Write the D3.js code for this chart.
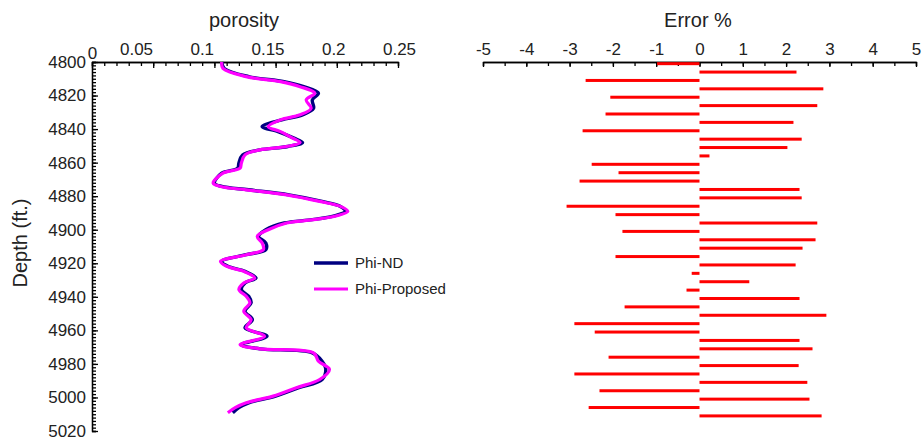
<!DOCTYPE html>
<html>
<head>
<meta charset="utf-8">
<script src="https://cdn.jsdelivr.net/npm/d3@7"></script>
<style>
  body { margin: 0; background: #fff; }
  svg { font-family: "Liberation Sans", Arial, sans-serif; }
  .axis path, .axis line { stroke: #000; stroke-width: 1.3; }
  .axis text { font-size: 17px; fill: #222; }
  .title { font-size: 20px; fill: #222; }
  .legend text { font-size: 15px; fill: #222; }
  .nd { fill: none; stroke: #000080; stroke-width: 3.4; }
  .prop { fill: none; stroke: #ff00ff; stroke-width: 3.2; }
  .bar { fill: #ff0000; }
</style>
</head>
<body>
<svg width="922" height="442"></svg>
<script>
// porosity logs
const logDepth = [4800, 4803.8, 4808.7, 4811.7, 4814.7, 4818.6, 4822.6, 4827.6, 4831.5, 4834.5, 4838.5, 4841.5, 4845.4, 4848, 4850.4, 4852.4, 4855.4, 4860.3, 4863.3, 4866.3, 4872.2, 4874.2, 4876.2, 4879.2, 4883.1, 4886.1, 4889.1, 4891.7, 4894, 4896, 4900, 4904, 4907.9, 4911.9, 4914.9, 4918.9, 4921.8, 4924.8, 4928.8, 4931.7, 4935.7, 4939.7, 4943.6, 4948.6, 4953.6, 4958.5, 4963.5, 4968.5, 4971, 4973.4, 4978.4, 4983.3, 4989.3, 4994.2, 4999.2, 5003.2, 5006.1, 5009.1]
const phiND = [0.106, 0.108, 0.128, 0.157, 0.173, 0.185, 0.180, 0.181, 0.172, 0.155, 0.139, 0.152, 0.165, 0.172, 0.160, 0.137, 0.123, 0.120, 0.119, 0.106, 0.100, 0.106, 0.128, 0.161, 0.188, 0.203, 0.207, 0.198, 0.180, 0.157, 0.142, 0.136, 0.142, 0.142, 0.126, 0.106, 0.111, 0.125, 0.134, 0.125, 0.122, 0.128, 0.130, 0.125, 0.131, 0.125, 0.143, 0.122, 0.137, 0.180, 0.188, 0.191, 0.188, 0.169, 0.150, 0.128, 0.120, 0.115]
const phiProposed = [0.106, 0.107, 0.126, 0.154, 0.170, 0.182, 0.175, 0.179, 0.170, 0.154, 0.144, 0.154, 0.164, 0.170, 0.159, 0.137, 0.125, 0.122, 0.121, 0.107, 0.099, 0.105, 0.126, 0.159, 0.186, 0.203, 0.209, 0.200, 0.181, 0.159, 0.144, 0.135, 0.139, 0.140, 0.126, 0.105, 0.110, 0.124, 0.133, 0.124, 0.120, 0.126, 0.129, 0.124, 0.130, 0.126, 0.141, 0.121, 0.137, 0.181, 0.185, 0.194, 0.186, 0.167, 0.148, 0.126, 0.117, 0.111]

// error bars
const errDepth = [4801, 4806, 4811, 4816, 4821, 4826, 4831, 4836, 4841, 4846, 4851, 4856, 4861, 4866, 4871, 4876, 4881, 4886, 4891, 4896, 4901, 4906, 4911, 4916, 4921, 4926, 4931, 4936, 4941, 4946, 4951, 4956, 4961, 4966, 4971, 4976, 4981, 4986, 4991, 4996, 5001, 5006, 5011]
const errPct = [-0.98, 2.24, -2.63, 2.86, -2.06, 2.72, -2.17, 2.17, -2.70, 2.36, 2.03, 0.23, -2.49, -1.87, -2.77, 2.31, 2.36, -3.07, -1.94, 2.72, -1.78, 2.68, 2.38, -1.94, 2.22, -0.18, 1.15, -0.30, 2.31, -1.73, 2.93, -2.89, -2.42, 2.31, 2.61, -2.10, 2.29, -2.89, 2.49, -2.31, 2.54, -2.56, 2.82]

const porTicks = [0, 0.05, 0.1, 0.15, 0.2, 0.25]
const errTicks = [-5, -4, -3, -2, -1, 0, 1, 2, 3, 4, 5]
const depthTicks = [4800, 4820, 4840, 4860, 4880, 4900, 4920, 4940, 4960, 4980, 5000, 5020]

const svg = d3.select("svg")

const y = d3.scaleLinear()
	.domain([4800, 5020])
	.range([62, 431])

const x = d3.scaleLinear()
	.domain([0, 0.25])
	.range([92, 398])

const xe = d3.scaleLinear()
	.domain([-5, 5])
	.range([483, 916])

// the tick labels of the porosity axis sit a little left of their ticks
const porLabel = d3.scaleLinear()
	.domain([0.05, 0.25])
	.range([136, 399])

// ---- porosity axis
svg.append("g")
	.attr("class", "axis")
	.attr("transform", "translate(0,62)")
	.call(d3.axisTop(x).ticks(25).tickSize(-4).tickFormat(""))

const xMajor = svg.append("g")
	.attr("class", "axis")
	.attr("transform", "translate(0,62)")
	.call(d3.axisTop(x).tickValues(porTicks).tickSize(-6).tickSizeOuter(0).tickFormat(d => d == 0 ? "0" : d3.format("")(d)))

xMajor.selectAll(".tick text")
	.attr("y", -7)
	.attr("transform", d => {
    if (d == 0) return "translate(0,4)"
    return `translate(${porLabel(d) - x(d)},0)`
  })

// ---- depth axis
svg.append("g")
	.attr("class", "axis")
	.attr("transform", "translate(92,0)")
	.call(d3.axisLeft(y).ticks(110).tickSize(-4).tickFormat(""))

const yMajor = svg.append("g")
	.attr("class", "axis")
	.attr("transform", "translate(92,0)")
	.call(d3.axisLeft(y).tickValues(depthTicks).tickSize(-6).tickSizeOuter(0).tickFormat(d3.format("")))

yMajor.selectAll(".tick text")
	.attr("x", -6)

// ---- error axis
svg.append("g")
	.attr("class", "axis")
	.attr("transform", "translate(0,62)")
	.call(d3.axisTop(xe).ticks(20).tickSize(-4).tickFormat(""))

const eMajor = svg.append("g")
	.attr("class", "axis")
	.attr("transform", "translate(0,62)")
	.call(d3.axisTop(xe).tickValues(errTicks).tickSize(-5).tickSizeOuter(0).tickFormat(d3.format("")))

eMajor.selectAll(".tick text")
	.attr("y", -7)
	.text(d => d < 0 ? "-" + Math.abs(d) : d)

// ---- titles
svg.append("text")
	.attr("class", "title")
	.attr("x", 244)
	.attr("y", 27)
	.style("text-anchor", "middle")
	.text("porosity")

svg.append("text")
	.attr("class", "title")
	.attr("x", 698)
	.attr("y", 27)
	.style("text-anchor", "middle")
	.text("Error %")

svg.append("text")
	.attr("class", "title")
	.attr("transform", "translate(27,243) rotate(-90)")
	.style("text-anchor", "middle")
	.text("Depth (ft.)")

// ---- porosity curves
const ndLine = d3.line()
	.x((d, i) => x(phiND[i]))
	.y(d => y(d))
	.curve(d3.curveCatmullRom)

const propLine = d3.line()
	.x((d, i) => x(phiProposed[i]))
	.y(d => y(d))
	.curve(d3.curveCatmullRom)

svg.append("path")
	.datum(logDepth)
	.attr("class", "nd")
	.attr("d", ndLine)

svg.append("path")
	.datum(logDepth)
	.attr("class", "prop")
	.attr("d", propLine)

// ---- legend
const legend = svg.append("g")
	.attr("class", "legend")

const legendItems = [["Phi-ND", "nd"], ["Phi-Proposed", "prop"]]

legendItems.forEach((item, i) => {
  legend.append("line")
  	.attr("class", item[1])
  	.attr("x1", 314)
  	.attr("x2", 348)
  	.attr("y1", 263 + i * 26)
  	.attr("y2", 263 + i * 26)
  legend.append("text")
  	.attr("x", 355)
  	.attr("y", 268 + i * 26)
  	.text(item[0])
})

// ---- error bars
svg.selectAll("rect.bar")
	.data(errPct)
	.enter().append("rect")
	.attr("class", "bar")
	.attr("x", d => xe(Math.min(0, d)))
	.attr("width", d => Math.abs(xe(d) - xe(0)))
	.attr("y", (d, i) => y(errDepth[i]) - 1.5)
	.attr("height", 3)
</script>
</body>
</html>
